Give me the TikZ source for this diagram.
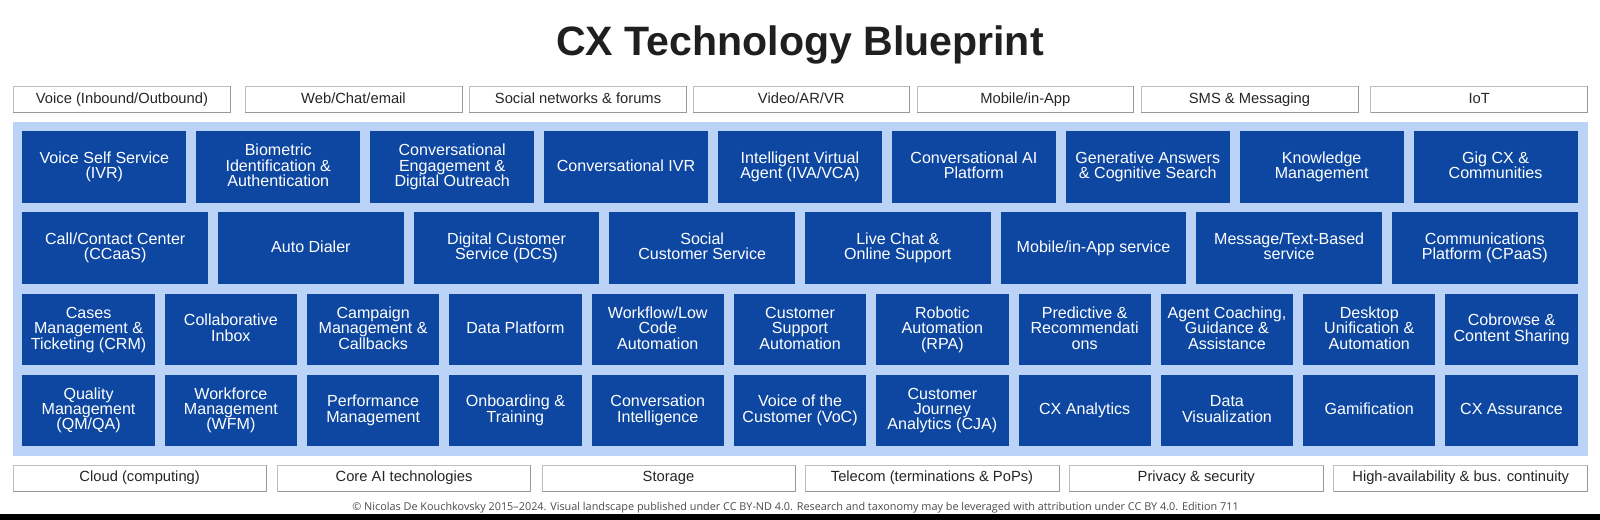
\documentclass[tikz,border=0pt]{standalone}
\usepackage{fontspec}
\setmainfont{Liberation Sans}
\newfontfamily\footfont{Open Sans}
\newfontfamily\titlefont{Liberation Sans}
\definecolor{cellblue}{HTML}{0D47A1}
\definecolor{panelblue}{HTML}{BBD3F6}
\definecolor{stripline}{HTML}{BEBEBE}
\definecolor{stripedge}{HTML}{9A9A9A}
\newcommand{\topstrut}{\rule{0pt}{8.7pt}}
\newcommand{\botstrut}{\rule[-2.5pt]{0pt}{2.5pt}}
\tikzset{
  cell/.style={fill=cellblue,text=white,inner sep=0pt,outer sep=0pt,align=center,
    font=\fontsize{12.05}{11.6}\selectfont},
  strip/.style={draw=stripline,line width=0.6pt,fill=white,text=black!85,inner sep=0pt,outer sep=0pt,align=center,
    font=\fontsize{11.05}{12}\selectfont,text height=8pt,text depth=2.4pt},
}
% row name, top y, height, cell width, list
\newcommand{\cellrow}[5]{%
  \foreach \lab [count=\i from 0] in {#5} {%
    \pgfmathsetmacro{\cx}{22.4+#4/2+\i*(#4+10)}%
    \pgfmathsetmacro{\cy}{#2+#3/2}%
    \node[cell,minimum width=#4*0.75pt,minimum height=#3*0.75pt] (#1c\i) at (\cx,\cy) {\topstrut\lab\botstrut};
  }%
}
% name, left, right, text
\newcommand{\stripbox}[4]{%
  \pgfmathsetmacro{\cx}{(#2+#3)/2}%
  \pgfmathsetmacro{\bw}{#3-#2}%
  \node[strip,minimum width=\bw*0.75pt,minimum height=\stripH*0.75pt] (#1) at (\cx,\stripY) {#4};
  \draw[stripedge,line width=0.7pt] (#1.south west) -- (#1.south east) -- (#1.north east);
}
\begin{document}
\begin{tikzpicture}[x=0.75pt,y=-0.75pt]
\useasboundingbox (0,0) rectangle (1600,520);
\fill[white] (0,0) rectangle (1600,520);
\node[inner sep=0pt,font=\titlefont\bfseries\fontsize{30.8}{36}\selectfont,text=black!88] (title) at (800,45) {CX Technology Blueprint};
\def\stripY{99.5}\def\stripH{26.5}
\stripbox{t1}{13.3}{230.6}{Voice (Inbound/Outbound)}
\stripbox{t2}{245}{462}{Web/Chat/email}
\stripbox{t3}{469.4}{686.7}{Social networks \& forums}
\stripbox{t4}{693}{909.5}{Video/AR/VR}
\stripbox{t5}{917}{1133.7}{Mobile/in-App}
\stripbox{t6}{1141}{1358}{SMS \& Messaging}
\stripbox{t7}{1370.5}{1587.8}{IoT}
\node[fill=panelblue,minimum width=1574.5*0.75pt,minimum height=334*0.75pt,inner sep=0pt,outer sep=0pt] (panel) at (800.5,289) {};
\cellrow{a}{131}{72}{163.9}{Voice Self Service\\(IVR),Biometric\\Identification \&\\Authentication,Conversational\\Engagement \&\\Digital Outreach,Conversational IVR,Intelligent Virtual\\Agent (IVA/VCA),Conversational AI\\Platform,Generative Answers\\\& Cognitive Search,Knowledge\\Management,Gig CX \&\\Communities}
\cellrow{b}{212.3}{71.5}{185.65}{Call/Contact Center\\(CCaaS),Auto Dialer,Digital Customer\\Service (DCS),Social\\Customer Service,Live Chat \&\\Online Support,Mobile/in-App service,Message/Text-Based\\service,Communications\\Platform (CPaaS)}
\cellrow{c}{293.7}{71.5}{132.3}{Cases\\Management \&\\Ticketing (CRM),Collaborative\\Inbox,Campaign\\Management \&\\Callbacks,Data Platform,Workflow/Low\\Code\\Automation,Customer\\Support\\Automation,Robotic\\Automation\\(RPA),Predictive \&\\Recommendati\\ons,{Agent Coaching,\\Guidance \&\\Assistance},Desktop\\Unification \&\\Automation,Cobrowse \&\\Content Sharing}
\cellrow{d}{374.7}{71.3}{132.3}{Quality\\Management\\(QM/QA),Workforce\\Management\\(WFM),Performance\\Management,Onboarding \&\\Training,Conversation\\Intelligence,Voice of the\\Customer (VoC),Customer\\Journey\\Analytics (CJA),CX Analytics,Data\\Visualization,Gamification,CX Assurance}
\def\stripY{478}\def\stripH{26}
\stripbox{f1}{13.3}{266}{Cloud (computing)}
\stripbox{f2}{277.5}{530.6}{Core AI technologies}
\stripbox{f3}{542}{795}{Storage}
\stripbox{f4}{805}{1059}{Telecom (terminations \& PoPs)}
\stripbox{f5}{1069}{1323.5}{Privacy \& security}
\stripbox{f6}{1333.7}{1587.8}{High-availability \& bus. continuity}
\node[inner sep=0pt,font=\footfont\fontsize{8.14}{10}\selectfont,text=black!70] (credit) at (795.5,507.5) {© Nicolas De Kouchkovsky 2015–2024. Visual landscape published under CC BY-ND 4.0. Research and taxonomy may be leveraged with attribution under CC BY 4.0. Edition 711};
\fill[black] (0,514) rectangle (1600,520);
\end{tikzpicture}
\end{document}
